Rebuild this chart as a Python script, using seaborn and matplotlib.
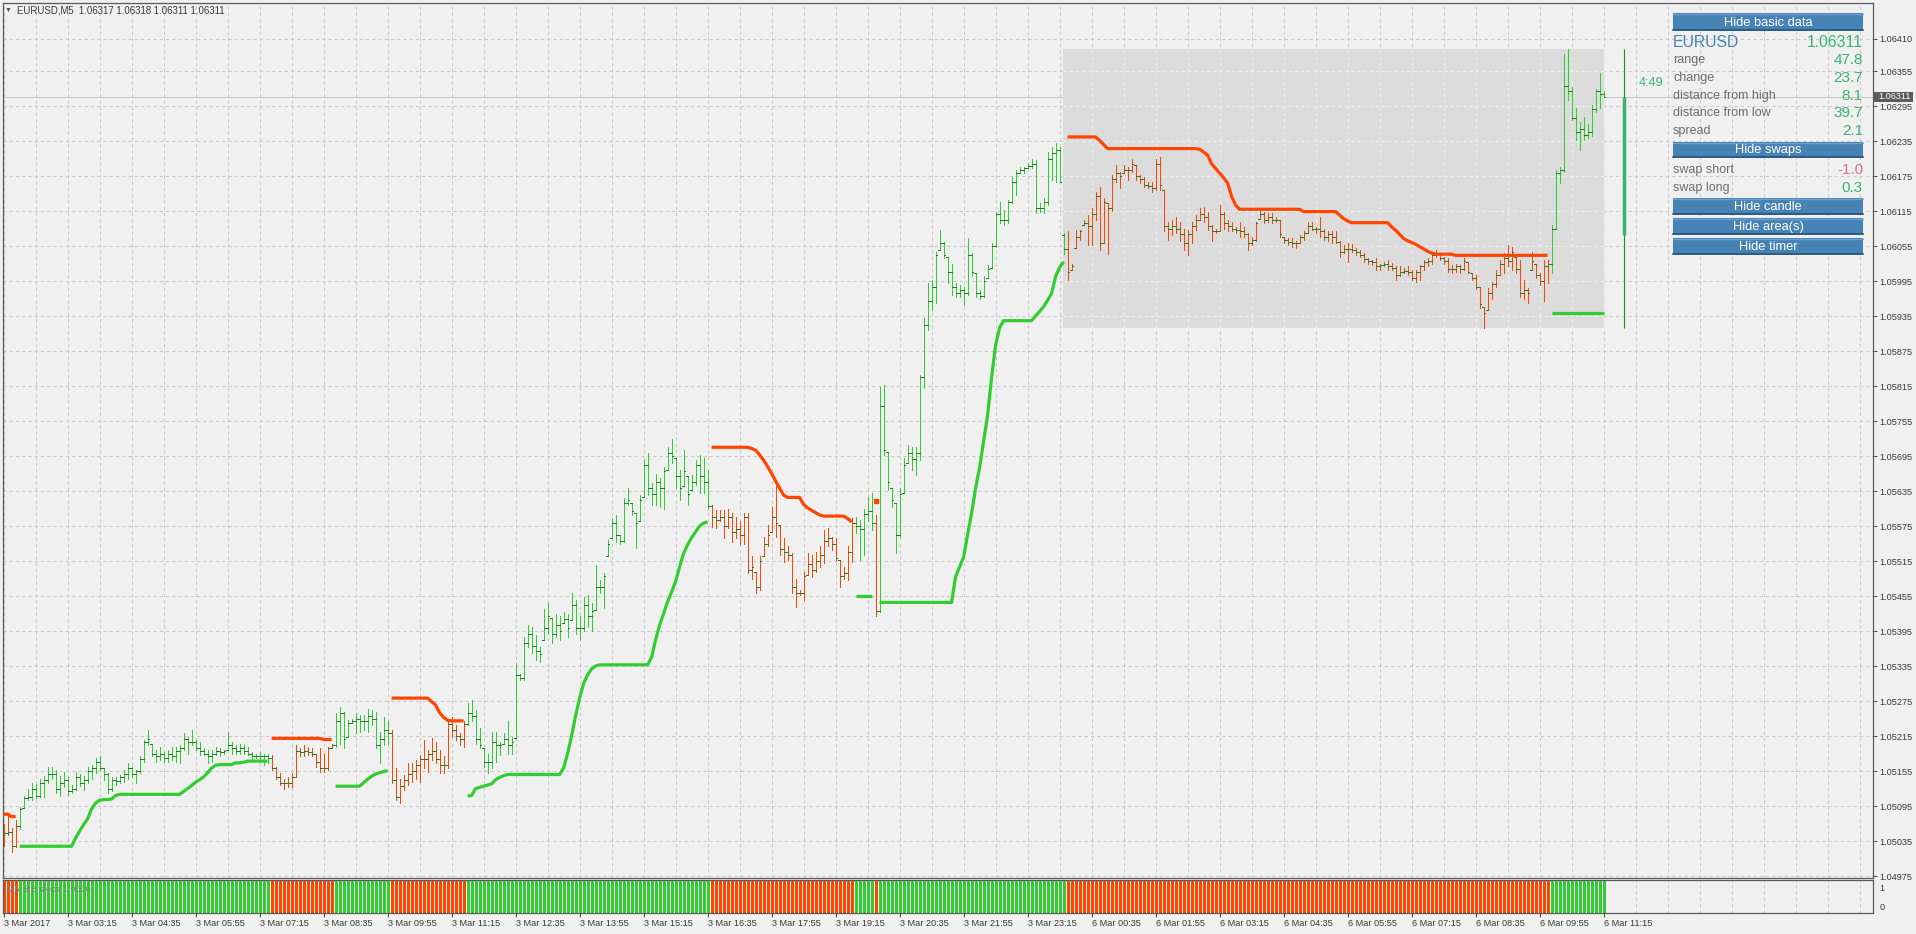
import matplotlib

matplotlib.use("Agg")

import matplotlib.pyplot as plt
import numpy as np
import seaborn as sns
from matplotlib.lines import Line2D
from matplotlib.patches import Rectangle

W, H = 1916, 934

# prices are kept as points (0.00001) above BASE
BASE = 1.04
POINT = 1e-5

highs = [
    1065, 1080, 1058, 1071, 1094, 1112, 1124, 1135, 1132, 1142,
    1146, 1162, 1162, 1156, 1146, 1154, 1145, 1131, 1154, 1150,
    1146, 1162, 1165, 1177, 1180, 1160, 1151, 1145, 1145, 1148,
    1157, 1168, 1162, 1157, 1180, 1208, 1225, 1202, 1191, 1197,
    1188, 1191, 1197, 1197, 1200, 1220, 1214, 1225, 1208, 1205,
    1194, 1191, 1191, 1197, 1194, 1191, 1222, 1205, 1200, 1202,
    1200, 1197, 1188, 1185, 1188, 1185, 1185, 1182, 1162, 1151,
    1142, 1145, 1151, 1200, 1194, 1200, 1197, 1194, 1185, 1194,
    1185, 1197, 1202, 1254, 1265, 1257, 1242, 1245, 1254, 1251,
    1251, 1262, 1260, 1257, 1222, 1248, 1240, 1225, 1160, 1142,
    1148, 1168, 1168, 1174, 1182, 1208, 1191, 1211, 1205, 1191,
    1180, 1245, 1248, 1234, 1220, 1240, 1271, 1277, 1260, 1228,
    1194, 1185, 1222, 1222, 1205, 1220, 1240, 1214, 1340, 1322,
    1385, 1405, 1402, 1388, 1368, 1432, 1443, 1417, 1425, 1420,
    1428, 1425, 1460, 1448, 1420, 1454, 1457, 1443, 1508, 1483,
    1494, 1551, 1588, 1594, 1560, 1623, 1640, 1614, 1597, 1628,
    1688, 1700, 1648, 1665, 1657, 1677, 1711, 1725, 1691, 1671,
    1705, 1660, 1663, 1688, 1697, 1691, 1671, 1611, 1603, 1603,
    1603, 1604, 1597, 1591, 1583, 1597, 1597, 1523, 1497, 1523,
    1557, 1577, 1608, 1643, 1577, 1554, 1540, 1528, 1485, 1465,
    1497, 1528, 1525, 1531, 1540, 1568, 1571, 1557, 1554, 1517,
    1505, 1540, 1588, 1591, 1585, 1605, 1625, 1631, 1594, 1814,
    1817, 1702, 1640, 1614, 1640, 1691, 1714, 1711, 1711, 1834,
    1931, 1991, 1997, 2045, 2083, 2062, 2037, 2025, 1991, 1988,
    1985, 2068, 2043, 2008, 1980, 2003, 2023, 2060, 2114, 2131,
    2117, 2134, 2174, 2185, 2191, 2191, 2197, 2205, 2202, 2128,
    2137, 2217, 2225, 2231, 2225, 2077, 2080, 2025, 2082, 2082,
    2100, 2108, 2120, 2148, 2157, 2137, 2128, 2177, 2194, 2182,
    2194, 2191, 2205, 2194, 2177, 2174, 2165, 2164, 2205, 2208,
    2151, 2097, 2100, 2105, 2097, 2085, 2083, 2097, 2108, 2120,
    2122, 2114, 2091, 2085, 2125, 2114, 2100, 2097, 2088, 2097,
    2088, 2077, 2071, 2097, 2117, 2114, 2111, 2111, 2105, 2100,
    2071, 2068, 2068, 2063, 2074, 2080, 2097, 2097, 2088, 2105,
    2085, 2080, 2080, 2080, 2063, 2057, 2060, 2058, 2051, 2048,
    2043, 2034, 2031, 2034, 2025, 2028, 2031, 2026, 2020, 2020,
    2017, 2020, 2014, 2014, 2023, 2031, 2034, 2043, 2048, 2043,
    2037, 2034, 2023, 2025, 2023, 2034, 2028, 2008, 2005, 1985,
    1951, 1983, 1994, 2014, 2031, 2043, 2057, 2054, 2037, 2031,
    1997, 1983, 2045, 2025, 2008, 2031, 2031, 2091, 2185, 2191,
    2385, 2392, 2328, 2291, 2268, 2277, 2265, 2297, 2325, 2351,
    2320,
]

lows = [
    1026, 1045, 1017, 1025, 1055, 1091, 1106, 1106, 1108, 1110,
    1110, 1134, 1142, 1117, 1112, 1128, 1114, 1117, 1122, 1129,
    1122, 1134, 1142, 1151, 1157, 1140, 1118, 1120, 1131, 1134,
    1137, 1142, 1145, 1134, 1151, 1171, 1200, 1180, 1171, 1174,
    1171, 1171, 1174, 1171, 1168, 1191, 1185, 1200, 1191, 1182,
    1182, 1168, 1171, 1182, 1180, 1185, 1191, 1185, 1185, 1185,
    1185, 1182, 1174, 1177, 1174, 1165, 1168, 1157, 1142, 1131,
    1125, 1128, 1127, 1145, 1180, 1180, 1182, 1180, 1162, 1154,
    1154, 1157, 1194, 1197, 1202, 1194, 1214, 1237, 1220, 1222,
    1225, 1222, 1234, 1194, 1169, 1200, 1202, 1134, 1105, 1100,
    1122, 1131, 1137, 1142, 1137, 1160, 1154, 1174, 1168, 1151,
    1151, 1160, 1214, 1208, 1200, 1197, 1234, 1240, 1202, 1194,
    1162, 1151, 1160, 1171, 1182, 1202, 1185, 1185, 1211, 1311,
    1311, 1368, 1357, 1345, 1342, 1380, 1390, 1375, 1385, 1380,
    1408, 1385, 1414, 1390, 1380, 1395, 1402, 1395, 1431, 1460,
    1434, 1523, 1554, 1548, 1545, 1548, 1611, 1594, 1537, 1583,
    1625, 1628, 1611, 1611, 1608, 1605, 1671, 1683, 1640, 1620,
    1643, 1611, 1637, 1645, 1631, 1631, 1605, 1574, 1571, 1583,
    1554, 1571, 1548, 1554, 1545, 1545, 1494, 1485, 1460, 1465,
    1523, 1540, 1565, 1557, 1525, 1514, 1517, 1460, 1437, 1457,
    1448, 1491, 1488, 1497, 1505, 1511, 1540, 1534, 1517, 1471,
    1485, 1483, 1514, 1563, 1517, 1525, 1583, 1568, 1420, 1428,
    1697, 1637, 1608, 1528, 1557, 1631, 1683, 1671, 1663, 1688,
    1811, 1911, 1945, 1957, 2048, 2034, 1991, 1971, 1968, 1968,
    1954, 1971, 2003, 1968, 1965, 1968, 2000, 2017, 2054, 2094,
    2091, 2094, 2128, 2143, 2180, 2180, 2188, 2188, 2111, 2114,
    2111, 2125, 2168, 2165, 2165, 2042, 1997, 2014, 2051, 2065,
    2091, 2057, 2057, 2100, 2048, 2060, 2042, 2115, 2165, 2154,
    2180, 2168, 2182, 2168, 2163, 2157, 2154, 2148, 2151, 2151,
    2080, 2065, 2074, 2077, 2063, 2048, 2040, 2060, 2082, 2100,
    2097, 2082, 2063, 2077, 2080, 2085, 2080, 2080, 2077, 2071,
    2071, 2048, 2057, 2063, 2102, 2094, 2097, 2094, 2097, 2071,
    2060, 2057, 2054, 2051, 2060, 2065, 2077, 2082, 2077, 2071,
    2065, 2063, 2060, 2060, 2037, 2043, 2028, 2045, 2040, 2037,
    2028, 2025, 2023, 2014, 2014, 2020, 2014, 2014, 1997, 2003,
    2008, 2005, 1997, 1994, 1997, 2014, 2020, 2025, 2037, 2031,
    2025, 2011, 2008, 2011, 2008, 2014, 2008, 1997, 1982, 1948,
    1914, 1945, 1965, 1985, 2005, 2008, 2020, 2014, 2008, 1968,
    1965, 1957, 2014, 2000, 1988, 1960, 1991, 2008, 2085, 2163,
    2182, 2305, 2271, 2237, 2220, 2237, 2240, 2243, 2285, 2291,
    2311,
]

closes = [
    1048, 1050, 1026, 1060, 1090, 1108, 1110, 1125, 1112, 1135,
    1140, 1150, 1150, 1125, 1135, 1140, 1120, 1125, 1145, 1135,
    1140, 1155, 1160, 1170, 1160, 1150, 1125, 1140, 1138, 1145,
    1150, 1160, 1150, 1155, 1175, 1205, 1210, 1185, 1180, 1185,
    1178, 1185, 1180, 1190, 1195, 1210, 1205, 1205, 1195, 1190,
    1185, 1180, 1185, 1190, 1188, 1190, 1200, 1195, 1190, 1195,
    1190, 1185, 1180, 1180, 1180, 1180, 1178, 1160, 1145, 1135,
    1135, 1135, 1145, 1190, 1188, 1190, 1188, 1185, 1170, 1160,
    1160, 1195, 1200, 1240, 1255, 1210, 1238, 1240, 1245, 1240,
    1240, 1250, 1245, 1200, 1210, 1225, 1220, 1140, 1110, 1130,
    1140, 1150, 1155, 1165, 1175, 1175, 1185, 1190, 1175, 1165,
    1165, 1235, 1225, 1215, 1210, 1235, 1255, 1250, 1210, 1200,
    1170, 1170, 1205, 1200, 1200, 1210, 1200, 1205, 1320, 1315,
    1375, 1390, 1370, 1360, 1355, 1400, 1420, 1390, 1405, 1395,
    1415, 1400, 1440, 1400, 1400, 1440, 1420, 1430, 1470, 1470,
    1490, 1545, 1580, 1560, 1550, 1615, 1620, 1600, 1580, 1620,
    1680, 1640, 1630, 1650, 1640, 1670, 1700, 1695, 1660, 1640,
    1670, 1630, 1650, 1680, 1660, 1650, 1610, 1590, 1585, 1590,
    1575, 1590, 1565, 1570, 1560, 1590, 1500, 1505, 1470, 1515,
    1545, 1560, 1590, 1580, 1535, 1530, 1525, 1470, 1460, 1460,
    1490, 1510, 1500, 1515, 1525, 1550, 1555, 1545, 1520, 1490,
    1495, 1530, 1580, 1575, 1570, 1595, 1600, 1580, 1430, 1780,
    1705, 1650, 1620, 1560, 1630, 1680, 1700, 1690, 1700, 1830,
    1920, 1960, 1985, 2040, 2060, 2040, 2010, 1985, 1975, 1980,
    1975, 2040, 2010, 1975, 1970, 1995, 2015, 2055, 2110, 2100,
    2100, 2130, 2165, 2180, 2185, 2188, 2192, 2195, 2120, 2120,
    2130, 2205, 2215, 2220, 2165, 2050, 2010, 2020, 2070, 2080,
    2095, 2090, 2110, 2140, 2060, 2130, 2120, 2170, 2180, 2175,
    2185, 2185, 2195, 2175, 2170, 2160, 2158, 2155, 2195, 2160,
    2090, 2085, 2090, 2085, 2075, 2060, 2075, 2090, 2100, 2110,
    2105, 2090, 2080, 2080, 2110, 2095, 2090, 2085, 2082, 2080,
    2075, 2060, 2065, 2095, 2110, 2100, 2105, 2100, 2100, 2075,
    2065, 2062, 2060, 2060, 2070, 2078, 2090, 2085, 2085, 2080,
    2070, 2075, 2070, 2062, 2045, 2050, 2050, 2048, 2045, 2040,
    2032, 2030, 2028, 2020, 2022, 2024, 2020, 2018, 2005, 2010,
    2012, 2010, 2000, 2010, 2020, 2028, 2030, 2040, 2042, 2035,
    2030, 2015, 2015, 2020, 2015, 2030, 2010, 2000, 1985, 1955,
    1940, 1975, 1990, 2005, 2025, 2035, 2030, 2045, 2015, 1975,
    1980, 1975, 2030, 2005, 1995, 2020, 2025, 2085, 2180, 2185,
    2330, 2320, 2275, 2250, 2255, 2245, 2250, 2290, 2320, 2315,
    2311,
]

first_open = 1060
gap_opens = {265: 2074}  # monday open after the weekend

# BB stops level per bar (support while up, resistance while down)
stops = (
    [1081, 1081, 1077, 1077]
    + [1026] * 14
    + [1040, 1052, 1063, 1073, 1090, 1100, 1105, 1106, 1106, 1107, 1113, 1115]
    + [1115] * 15
    + [1120, 1125, 1130, 1136, 1140, 1145, 1152, 1160, 1165]
    + [1166] * 4 + [1169, 1169, 1170] + [1172] * 6
    + [1211] * 13 + [1209] * 3
    + [1129] * 7 + [1135, 1141, 1146, 1150, 1152, 1154, 1156]
    + [1280] * 10 + [1274, 1268, 1255, 1247, 1242] + [1241] * 4
    + [1112, 1113, 1125, 1127, 1129, 1131, 1133, 1140, 1144, 1147, 1149] + [1149] * 13
    + [1160, 1185, 1215, 1250, 1280, 1305, 1320, 1330, 1335] + [1337] * 13
    + [1350, 1380, 1405, 1425, 1445, 1462, 1480, 1505, 1528, 1543, 1555, 1565, 1575, 1580, 1582]
    + [1710] * 10 + [1708, 1705, 1697, 1688, 1677, 1665, 1652, 1640, 1628] + [1624] * 4
    + [1612, 1606, 1602, 1598, 1594] + [1592] * 6 + [1588, 1582]
    + [1455] * 5
    + [1618]
    + [1444] * 19
    + [1488, 1505, 1522, 1560, 1597, 1640, 1675, 1720, 1765, 1830, 1885, 1915, 1927] + [1927] * 7
    + [1935, 1943, 1951, 1962, 1974, 2003, 2018, 2028]
    + [2242] * 8 + [2236, 2229, 2222] + [2222] * 22
    + [2221, 2216, 2211, 2196, 2188, 2180, 2172, 2163, 2140, 2125] + [2118] * 16 + [2114] * 9
    + [2108, 2102, 2098, 2095] + [2095] * 9
    + [2088, 2082, 2075, 2068, 2064, 2061, 2058, 2054, 2050, 2046, 2043] + [2041] * 5 + [2039] * 24
    + [1941] * 14
)

trend_runs = [
    ("dn", 4), ("up", 63), ("dn", 16), ("up", 14), ("dn", 19), ("up", 61),
    ("dn", 36), ("up", 5), ("dn", 1), ("up", 47), ("dn", 121), ("up", 14),
]

time_bars = [0, 16, 32, 48, 64, 80, 96, 112, 128, 144, 160, 176, 192,
             208, 224, 240, 256, 272, 288, 304, 320, 336, 352, 368, 384, 400]
time_labels = [
    "3 Mar 2017", "3 Mar 03:15", "3 Mar 04:35", "3 Mar 05:55", "3 Mar 07:15",
    "3 Mar 08:35", "3 Mar 09:55", "3 Mar 11:15", "3 Mar 12:35", "3 Mar 13:55",
    "3 Mar 15:15", "3 Mar 16:35", "3 Mar 17:55", "3 Mar 19:15", "3 Mar 20:35",
    "3 Mar 21:55", "3 Mar 23:15", "6 Mar 00:35", "6 Mar 01:55", "6 Mar 03:15",
    "6 Mar 04:35", "6 Mar 05:55", "6 Mar 07:15", "6 Mar 08:35", "6 Mar 09:55",
    "6 Mar 11:15",
]
price_labels = [
    "1.04975", "1.05035", "1.05095", "1.05155", "1.05215", "1.05275", "1.05335",
    "1.05395", "1.05455", "1.05515", "1.05575", "1.05635", "1.05695", "1.05755",
    "1.05815", "1.05875", "1.05935", "1.05995", "1.06055", "1.06115", "1.06175",
    "1.06235", "1.06295", "1.06355", "1.06410",
]

day_open, day_high, day_low, last_price = 2074, 2392, 1914, 2311
candle_bar = 405
area_bars = (265, 400)

info_rows = [("range", "47.8"), ("change", "23.7"), ("distance from high", "8.1"),
             ("distance from low", "39.7"), ("spread", "2.1")]
swap_rows = [("swap short", "-1.0"), ("swap long", "0.3")]

BG = "#f0f0f0"
GRID = "#c8c8c8"
UP = "#32cd32"
DN = "#ff4500"
TICK = "#2a7a2a"
TXT = "#3a3a3a"
BTN = "#4682b4"
SEA = "#3cb371"
DASH = (0, (3, 3))


def price(v):
    return BASE + np.asarray(v, dtype=float) * POINT


def fx(x):
    return x / W


def fy(y):
    return 1 - y / H


sns.set_theme(style="white")
plt.rcParams["font.family"] = ["Liberation Sans", "DejaVu Sans"]

n = len(closes)
assert len(highs) == n and len(lows) == n and len(stops) == n
trend = np.repeat([s for s, _ in trend_runs], [k for _, k in trend_runs])
assert len(trend) == n
bars = np.arange(n)
hi, lo, cl = price(highs), price(lows), price(closes)
opens = [first_open] + closes[:-1]
for b, v in gap_opens.items():
    opens[b] = v
op = price(opens)

fig = plt.figure(figsize=(W / 100, H / 100), dpi=100, facecolor=BG)
ax = fig.add_axes([fx(3), fy(878), (1873 - 3) / W, (878 - 3) / H], facecolor=BG)
ax2 = fig.add_axes([fx(3), fy(913), (1873 - 3) / W, (913 - 880) / H], facecolor=BG)
xlim = (-0.15, 467.35)

# grid
ticks_y = [float(s) for s in price_labels]
for b in range(0, 468, 8):
    ax.axvline(b, color=GRID, lw=0.75, ls=DASH, zorder=0.5)
    ax2.axvline(b, color=GRID, lw=0.75, ls=DASH, zorder=0.5)
for p in ticks_y:
    ax.axhline(p, color=GRID, lw=0.75, ls=DASH, zorder=0.5)
ax.axhline(price(last_price), color=GRID, lw=0.75, zorder=0.6)

# today's range area, grid shows through lighter
a0, a1 = area_bars
ax.add_patch(Rectangle((a0 - 0.15, price(day_low)), a1 - a0 + 0.15,
                       price(day_high) - price(day_low), fc="#dcdcdc", ec="none", zorder=0.8))
for b in range(0, 468, 8):
    if a0 < b <= a1:
        ax.vlines(b, price(day_low), price(day_high), colors=BG, lw=0.75, linestyles=DASH, zorder=0.9)
for p in ticks_y:
    if price(day_low) < p < price(day_high):
        ax.hlines(p, a0 - 0.15, a1, colors=BG, lw=0.75, linestyles=DASH, zorder=0.9)

# price bars coloured by the stop state
up = trend == "up"
for mask, col in ((up, UP), (~up, DN)):
    ax.vlines(bars[mask], lo[mask], hi[mask], colors=col, lw=0.7, zorder=3, antialiased=False)
ax.hlines(np.clip(op, lo, hi), bars - 0.3, bars, colors=TICK, lw=0.6, zorder=3.5, antialiased=False)
ax.hlines(np.clip(cl, lo, hi), bars, bars + 0.3, colors=TICK, lw=0.6, zorder=3.5, antialiased=False)

# stop lines, one piece per run
start = 0
for state, k in trend_runs:
    seg = slice(start, start + k)
    col = UP if state == "up" else DN
    if k > 1:
        sns.lineplot(x=bars[seg], y=price(stops[seg]), color=col, lw=2.3, ax=ax,
                     zorder=4, solid_capstyle="butt")
    else:
        ax.plot(bars[seg], price(stops[seg]), "s", color=col, ms=2.2, zorder=4)
    start += k

# daily candle
ax.vlines(candle_bar, price(day_low), price(day_high), colors="#1e8a1e", lw=0.8, zorder=4)
ax.vlines(candle_bar, price(day_open), price(last_price), colors=SEA, lw=2.5, zorder=4)

ax.set_xlim(*xlim)
ax.set_ylim(price(971.6), price(2471.6))
ax.set_xticks([])
ax.yaxis.tick_right()
ax.set_yticks(ticks_y)
ax.set_yticklabels(price_labels)
ax.tick_params(axis="y", right=True, length=3, width=0.75, color="#555555", pad=1.5,
               labelsize=6.6, labelcolor=TXT)

# indicator histogram
for mask, col in ((up, UP), (~up, DN)):
    ax2.vlines(bars[mask], 0, 1, transform=ax2.get_xaxis_transform(), colors=col, lw=1.9,
               zorder=2, antialiased=False)
ax2.set_xlim(*xlim)
ax2.set_ylim(-0.316, 1.421)
ax2.yaxis.tick_right()
ax2.set_yticks([0, 1])
ax2.set_yticklabels(["0", "1"])
ax2.set_xticks(time_bars)
ax2.set_xticklabels(time_labels, ha="left")
ax2.tick_params(axis="y", right=True, length=0, pad=4.5, labelsize=6.6, labelcolor=TXT)
ax2.tick_params(axis="x", bottom=True, length=3, width=0.75, color="#555555", pad=1.5,
                labelsize=6.6, labelcolor=TXT)

for a in (ax, ax2):
    for sp in a.spines.values():
        sp.set_color("#5a5a5a")
        sp.set_linewidth(0.9)

# header and indicator caption
fig.text(fx(5), fy(10), "\u25bc", fontsize=5, color="#555555", va="center")
fig.text(fx(17), fy(10.5), "EURUSD,M5  1.06317 1.06318 1.06311 1.06311", fontsize=6.9,
         color=TXT, va="center")
fig.text(fx(7), fy(889), "M5  BB stops 1.0010", fontsize=6.5, color="#808080", va="center",
         zorder=6)

# last price marker on the scale
fig.add_artist(Rectangle((fx(1874), fy(101.5)), 39 / W, 10 / H, transform=fig.transFigure,
                         fc="#5c5c5c", ec="none", zorder=6))
fig.text(fx(1878), fy(96.7), "1.06311", fontsize=6.6, color="white", va="center", zorder=7)

# timer
fig.text(fx(1639), fy(83), "4:49", fontsize=9.2, color=SEA, va="center", zorder=6)

# info panel
X0, X1 = 1673, 1863


def button(y0, y1, label):
    fig.add_artist(Rectangle((fx(X0), fy(y1)), (X1 - X0) / W, (y1 - y0) / H,
                             transform=fig.transFigure, fc=BTN, ec="none", zorder=6))
    fig.add_artist(Line2D([fx(X0), fx(X1)], [fy(y0 + 0.5)] * 2, color="#6e9fcf", lw=1,
                          transform=fig.transFigure, zorder=6.5))
    fig.add_artist(Line2D([fx(X0), fx(X1)], [fy(y1 - 1)] * 2, color="#2c5a84", lw=1.4,
                          transform=fig.transFigure, zorder=6.5))
    fig.text(fx((X0 + X1) / 2), fy((y0 + y1) / 2 + 0.5), label, fontsize=9.3, color="white",
             ha="center", va="center", zorder=7)


button(13, 31, "Hide basic data")
fig.text(fx(X0), fy(42.5), "EURUSD", fontsize=11.3, color=BTN, va="center", zorder=7)
fig.text(fx(X1), fy(42.5), "1.06311", fontsize=11.3, color=SEA, ha="right", va="center", zorder=7)
for (label, value), y in zip(info_rows, [60, 77.5, 95.5, 113, 131]):
    fig.text(fx(X0), fy(y), label, fontsize=9, color="#6e6e6e", va="center", zorder=7)
    fig.text(fx(X1), fy(y), value, fontsize=11, color=SEA, ha="right", va="center", zorder=7)
button(142, 158, "Hide swaps")
for (label, value), y in zip(swap_rows, [169.5, 187.5]):
    col = "#db7093" if value.startswith("-") else SEA
    fig.text(fx(X0), fy(y), label, fontsize=9, color="#6e6e6e", va="center", zorder=7)
    fig.text(fx(X1), fy(y), value, fontsize=11, color=col, ha="right", va="center", zorder=7)
button(198, 215, "Hide candle")
button(218, 235, "Hide area(s)")
button(238, 255, "Hide timer")

fig.savefig("out.png", dpi=100, facecolor=BG)
